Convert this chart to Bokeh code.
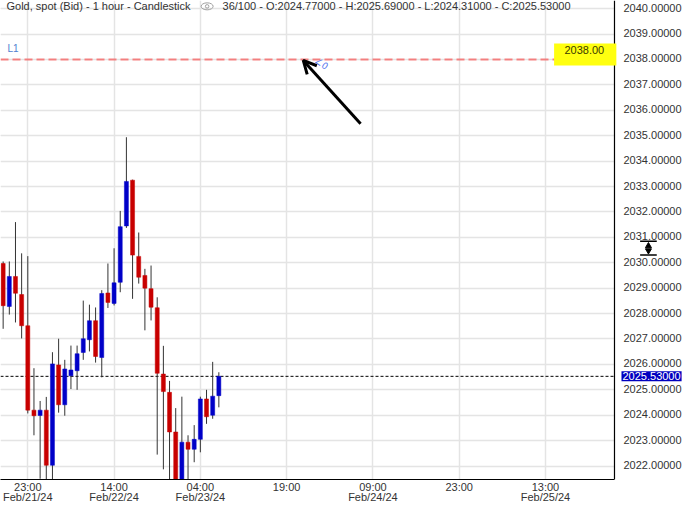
from bokeh.plotting import figure
from bokeh.models import (FixedTicker, SingleIntervalTicker, Grid, Span, Label, BoxAnnotation,
                          Arrow, OpenHead, ColumnDataSource)
from bokeh.core.properties import value
from bokeh.embed import file_html
from bokeh.resources import INLINE

# ---- data ----
idx = list(range(-4, 32))
opens = [2029.97, 2028.28, 2029.46, 2028.75, 2027.52, 2024.20, 2023.99, 2024.20, 2022.03,
         2025.98, 2024.41, 2025.55, 2025.75, 2026.47, 2026.97, 2027.72, 2026.27, 2028.81,
         2028.40, 2029.23, 2031.45, 2033.25, 2030.25, 2029.50, 2028.98, 2028.23, 2025.62,
         2024.90, 2023.34, 2021.25, 2022.94, 2022.66, 2023.05, 2024.64, 2024.00, 2024.77]
highs = [2030.05, 2030.05, 2031.60, 2030.37, 2030.26, 2025.85, 2024.56, 2024.72, 2026.48,
         2027.01, 2026.18, 2026.74, 2026.74, 2028.51, 2028.35, 2028.24, 2028.92, 2029.97,
         2030.57, 2032.04, 2034.94, 2033.27, 2031.19, 2029.76, 2029.89, 2028.64, 2026.73,
         2025.35, 2024.28, 2024.73, 2023.21, 2023.61, 2024.73, 2025.00, 2026.10, 2025.69]
lows = [2027.40, 2027.96, 2027.65, 2027.02, 2024.07, 2023.21, 2021.50, 2021.45, 2021.30,
        2024.10, 2023.98, 2025.03, 2025.00, 2026.18, 2026.51, 2026.07, 2025.49, 2028.22,
        2028.32, 2028.84, 2031.37, 2028.58, 2029.18, 2027.34, 2027.73, 2022.45, 2021.87,
        2021.40, 2020.90, 2020.95, 2021.20, 2022.15, 2022.54, 2023.66, 2023.86, 2024.31]
closes = [2028.31, 2029.46, 2028.80, 2027.52, 2024.20, 2023.98, 2024.20, 2022.03, 2026.02,
          2024.41, 2025.82, 2025.78, 2026.42, 2027.01, 2027.72, 2026.31, 2028.79, 2028.44,
          2029.21, 2031.42, 2033.20, 2030.30, 2029.43, 2029.00, 2028.25, 2025.65, 2024.93,
          2023.34, 2021.20, 2022.94, 2022.66, 2023.05, 2024.64, 2023.94, 2024.75, 2025.53]

x_ticks = [0, 14, 28, 42, 56, 70, 84]
x_tick_labels = ["23:00\nFeb/21/24", "14:00\nFeb/22/24", "04:00\nFeb/23/24", "19:00",
                 "09:00\nFeb/24/24", "23:00", "13:00\nFeb/25/24"]
y_ticks = list(range(2022, 2041))
y_tick_labels = ["%.5f" % v for v in y_ticks]

level_line = 2038.00
last_close = 2025.53
title_left = "Gold, spot (Bid) - 1 hour - Candlestick"
title_right = "36/100 - O:2024.77000 - H:2025.69000 - L:2024.31000 - C:2025.53000"

# ---- layout constants ----
X0, X_AXIS, X1 = -4.43, 95.2, 106.56
Y0, Y1 = 2021.47, 2040.32
UP = "#0000c8"
DOWN = "#c80000"
FONT = "Liberation Sans"
TXT = "#333333"

colors = [UP if c >= o else DOWN for o, c in zip(opens, closes)]
src = ColumnDataSource(dict(x=idx, o=opens, h=highs, l=lows, c=closes,
                            top=[max(a, b) for a, b in zip(opens, closes)],
                            bot=[min(a, b) for a, b in zip(opens, closes)],
                            color=colors))

p = figure(width=684, height=505, output_backend="svg", toolbar_location=None,
           x_range=(X0, X1), y_range=(Y0, Y1), y_axis_location=None,
           min_border_left=0, min_border_top=0, min_border_right=0, min_border_bottom=24)
p.outline_line_color = None
p.background_fill_color = "white"

# grid
p.xgrid.ticker = FixedTicker(ticks=x_ticks)
p.xgrid.grid_line_color = "#e4e4e4"
p.xgrid.grid_line_width = 1.5
p.add_layout(Grid(dimension=1, ticker=SingleIntervalTicker(interval=1),
                  grid_line_color="#e4e4e4", grid_line_width=1.5))
# keep the price-scale strip clear of grid lines
p.add_layout(BoxAnnotation(left=X_AXIS, right=X1, bottom=Y0, top=Y1, level="underlay",
                           fill_color="white", fill_alpha=1.0, line_color=None))

# time axis
xa = p.xaxis[0]
xa.ticker = FixedTicker(ticks=x_ticks)
xa.major_label_overrides = {t: lab for t, lab in zip(x_ticks, x_tick_labels)}
xa.bounds = (X0, X_AXIS)
xa.axis_line_color = "black"
xa.axis_line_width = 1.2
xa.major_tick_line_color = None
xa.minor_tick_line_color = None
xa.major_tick_out = 0
xa.major_tick_in = 0
xa.minor_tick_out = 0
xa.minor_tick_in = 0
xa.axis_label_standoff = 0
xa.major_label_standoff = 1
xa.major_label_text_font = FONT
xa.major_label_text_font_size = "11px"
xa.major_label_text_color = TXT
xa.major_label_text_line_height = 0.85

# price scale (right)
p.add_layout(Span(location=X_AXIS, dimension="height", line_color="black", line_width=1.2))
p.text(x=[X_AXIS] * len(y_ticks), y=y_ticks, text=y_tick_labels, x_offset=9, y_offset=-1,
       text_font=value(FONT), text_font_size="11px", text_color=TXT,
       text_baseline="middle", text_align="left")

# level line with yellow tag
p.add_layout(BoxAnnotation(left=85.4, right=95.5, bottom=2037.76, top=2038.63,
                           fill_color="#ffff10", fill_alpha=1.0, line_color=None))
p.segment(x0=[X0], x1=[X_AXIS], y0=[level_line], y1=[level_line], line_color="#ff1a1a",
          line_alpha=0.5, line_width=2, line_dash="8 4")
p.add_layout(Label(x=90.3, y=2038.38, text="%.2f" % level_line, text_align="center",
                   text_baseline="middle", text_font=FONT, text_font_size="11px",
                   text_color="#3a3a00"))
p.add_layout(Label(x=-3.3, y=2038.44, text="L1", text_font=FONT, text_font_size="10px",
                   text_color="#5080d0", text_baseline="middle"))
p.add_layout(Label(x=47.65, y=2037.84, text="∠0", text_font="DejaVu Sans",
                   text_font_size="9px", text_color="#5577ee", angle=-0.6,
                   text_baseline="middle", text_align="center"))

# last price line
p.segment(x0=[X0], x1=[X_AXIS], y0=[last_close], y1=[last_close], line_color="black",
          line_width=1, line_dash="3 2")

# candles
p.segment(x0="x", x1="x", y0="l", y1="h", source=src, line_color="#333333", line_width=1)
p.vbar(x="x", width=0.65, top="top", bottom="bot", source=src,
       fill_color="color", line_color="color", line_width=0.5)

# arrow
p.add_layout(Arrow(x_start=54.0, y_start=2035.47, x_end=44.7, y_end=2037.96,
                   line_color="black", line_width=3,
                   end=OpenHead(size=13, line_color="black", line_width=3)))

# header
p.add_layout(Label(x=-3.46, y=2040.09, text=title_left, text_font=FONT,
                   text_font_size="11px", text_color=TXT, text_baseline="middle"))
p.ellipse(x=[29.1], y=[2040.09], width=12, height=7, width_units="screen",
          height_units="screen", fill_color=None, line_color="#a0a0a0", line_width=1)
p.scatter(x=[29.1], y=[2040.09], size=3.5, fill_color=None, line_color="#a0a0a0")
p.add_layout(Label(x=31.6, y=2040.09, text=title_right, text_font=FONT,
                   text_font_size="11px", text_color=TXT, text_baseline="middle"))

# price tag on the scale
p.add_layout(Label(x=X_AXIS, y=last_close, x_offset=7, text="%.5f" % last_close,
                   level="overlay", text_font=FONT, text_font_size="11px",
                   text_color="white", text_baseline="middle",
                   background_fill_color="#0000c0", padding=1))

# small scale icon on the price axis
ICON_X, ICON_TOP, ICON_BOT = 100.71, 2030.85, 2030.30
p.quad(left=[ICON_X - 1.4], right=[ICON_X + 1.4], bottom=[ICON_BOT], top=[ICON_TOP],
       fill_color="white", line_color=None)
p.segment(x0=[ICON_X - 1.35] * 2, x1=[ICON_X + 1.35] * 2, y0=[ICON_TOP, ICON_BOT],
          y1=[ICON_TOP, ICON_BOT], line_color="black", line_width=1.5)
p.scatter(x=[ICON_X, ICON_X], y=[2030.66, 2030.48], marker=["triangle", "inverted_triangle"],
          size=6, fill_color="black", line_color="black")

open("out.html", "w").write(file_html(p, INLINE))
